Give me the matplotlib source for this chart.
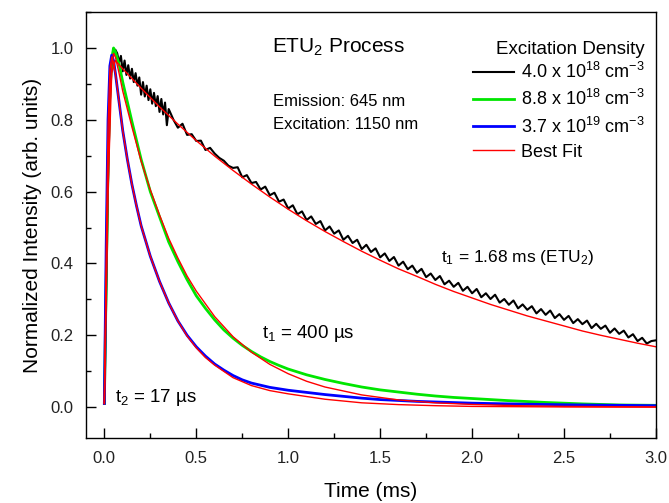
import numpy as np
import matplotlib
matplotlib.use('Agg')
from matplotlib import pyplot as plt
from matplotlib.ticker import MultipleLocator

plt.rcParams['font.family'] = ['Liberation Sans', 'DejaVu Sans']
plt.rcParams['mathtext.fontset'] = 'custom'
plt.rcParams['mathtext.rm'] = 'Liberation Sans'
plt.rcParams['mathtext.it'] = 'Liberation Sans'

#### data (time in ms, normalized intensity)

black_t = [0.0, 0.01, 0.02, 0.03, 0.04, 0.05, 0.06,
           0.07, 0.08, 0.09, 0.10, 0.11, 0.12, 0.13, 0.14, 0.15, 0.16,
           0.17, 0.18, 0.19, 0.20, 0.21, 0.22, 0.23, 0.24, 0.25, 0.26,
           0.27, 0.28, 0.29, 0.30, 0.31, 0.32, 0.33, 0.34, 0.35,
           0.375, 0.4, 0.425, 0.45, 0.475, 0.5, 0.525, 0.55, 0.575, 0.6,
           0.625, 0.65, 0.675, 0.7, 0.725, 0.75, 0.775, 0.8, 0.825, 0.85,
           0.875, 0.9, 0.925, 0.95, 0.975, 1.0, 1.025, 1.05, 1.075, 1.1,
           1.125, 1.15, 1.175, 1.2, 1.225, 1.25, 1.275, 1.3, 1.325, 1.35,
           1.375, 1.4, 1.425, 1.45, 1.475, 1.5, 1.525, 1.55, 1.575, 1.6,
           1.625, 1.65, 1.675, 1.7, 1.725, 1.75, 1.775, 1.8, 1.825, 1.85,
           1.875, 1.9, 1.925, 1.95, 1.975, 2.0, 2.025, 2.05, 2.075, 2.1,
           2.125, 2.15, 2.175, 2.2, 2.225, 2.25, 2.275, 2.3, 2.325, 2.35,
           2.375, 2.4, 2.425, 2.45, 2.475, 2.5, 2.525, 2.55, 2.575, 2.6,
           2.625, 2.65, 2.675, 2.7, 2.725, 2.75, 2.775, 2.8, 2.825, 2.85,
           2.875, 2.9, 2.925, 2.95, 2.975, 3.0]
black_y = [0.01, 0.30, 0.62, 0.85, 0.95, 0.985, 0.995,
           0.985, 0.960, 0.978, 0.935, 0.965, 0.925, 0.952, 0.915, 0.942, 0.905,
           0.930, 0.895, 0.918, 0.870, 0.905, 0.865, 0.895, 0.855, 0.885, 0.845,
           0.875, 0.838, 0.866, 0.822, 0.858, 0.815, 0.848, 0.785, 0.830,
           0.801, 0.778, 0.789, 0.758, 0.760, 0.741, 0.742, 0.716, 0.722, 0.706,
           0.694, 0.686, 0.672, 0.666, 0.668, 0.640, 0.646, 0.624, 0.627, 0.606,
           0.614, 0.590, 0.597, 0.572, 0.578, 0.553, 0.562, 0.537, 0.545, 0.521,
           0.531, 0.510, 0.518, 0.492, 0.503, 0.483, 0.492, 0.466, 0.477, 0.457,
           0.466, 0.440, 0.452, 0.432, 0.442, 0.417, 0.428, 0.407, 0.418, 0.394,
           0.405, 0.384, 0.394, 0.374, 0.385, 0.362, 0.372, 0.354, 0.365, 0.342,
           0.352, 0.335, 0.346, 0.324, 0.335, 0.317, 0.329, 0.306, 0.317, 0.301,
           0.313, 0.291, 0.301, 0.285, 0.297, 0.275, 0.286, 0.271, 0.281, 0.261,
           0.273, 0.257, 0.269, 0.248, 0.259, 0.243, 0.254, 0.234, 0.245, 0.231,
           0.241, 0.220, 0.232, 0.218, 0.227, 0.207, 0.219, 0.204, 0.213, 0.194,
           0.203, 0.184, 0.193, 0.177, 0.184, 0.186]

black_fit_t = [0.0, 0.02, 0.04, 0.06, 0.1, 0.2, 0.3, 0.4, 0.5, 0.6, 0.7, 0.8,
               0.9, 1.0, 1.1, 1.2, 1.3, 1.4, 1.5, 1.6, 1.7, 1.8, 1.9, 2.0,
               2.1, 2.2, 2.3, 2.4, 2.5, 2.6, 2.7, 2.8, 2.9, 3.0]
black_fit_y = [0.01, 0.60, 0.93, 0.965, 0.942, 0.888, 0.836, 0.788, 0.742,
               0.699, 0.659, 0.621, 0.585, 0.551, 0.519, 0.489, 0.461, 0.434,
               0.409, 0.385, 0.364, 0.342, 0.322, 0.304, 0.286, 0.270, 0.254,
               0.240, 0.226, 0.212, 0.200, 0.189, 0.178, 0.168]

green_t = [0.0, 0.01, 0.02, 0.03, 0.04, 0.05, 0.06, 0.08, 0.1, 0.15, 0.2,
           0.25, 0.3, 0.35, 0.4, 0.45, 0.5, 0.55, 0.6, 0.65, 0.7, 0.75, 0.8,
           0.85, 0.9, 0.95, 1.0, 1.1, 1.2, 1.3, 1.4, 1.5, 1.6, 1.7, 1.8, 1.9,
           2.0, 2.2, 2.4, 2.6, 2.8, 3.0]
green_y = [0.01, 0.35, 0.68, 0.88, 0.97, 1.0, 0.99, 0.955, 0.905, 0.795, 0.69,
           0.60, 0.53, 0.46, 0.405, 0.355, 0.31, 0.275, 0.243, 0.215, 0.192,
           0.172, 0.155, 0.140, 0.127, 0.116, 0.106, 0.090, 0.077, 0.066,
           0.056, 0.048, 0.042, 0.036, 0.031, 0.027, 0.024, 0.018, 0.013,
           0.009, 0.006, 0.005]

green_fit_t = [0.0, 0.01, 0.02, 0.03, 0.04, 0.05, 0.06, 0.08, 0.1, 0.15, 0.2,
               0.25, 0.3, 0.35, 0.4, 0.45, 0.5, 0.6, 0.7, 0.8, 0.9, 1.0, 1.1,
               1.2, 1.4, 1.6, 1.8, 2.0, 2.25, 2.5, 3.0]
green_fit_y = [0.01, 0.33, 0.65, 0.86, 0.95, 0.985, 0.975, 0.93, 0.88, 0.78,
               0.685, 0.605, 0.535, 0.47, 0.415, 0.365, 0.323, 0.252, 0.196,
               0.153, 0.119, 0.093, 0.072, 0.056, 0.034, 0.020, 0.012, 0.0075,
               0.004, 0.002, 0.0005]

blue_t = [0.0, 0.01, 0.02, 0.03, 0.04, 0.05, 0.06, 0.08, 0.1, 0.125, 0.15,
          0.175, 0.2, 0.25, 0.3, 0.35, 0.4, 0.45, 0.5, 0.55, 0.6, 0.65, 0.7,
          0.75, 0.8, 0.9, 1.0, 1.1, 1.2, 1.3, 1.4, 1.5, 1.7, 2.0, 2.3, 2.6,
          3.0]
blue_y = [0.01, 0.45, 0.80, 0.95, 0.98, 0.965, 0.93, 0.85, 0.77, 0.69, 0.62,
          0.56, 0.505, 0.42, 0.35, 0.29, 0.24, 0.20, 0.168, 0.142, 0.120,
          0.103, 0.088, 0.076, 0.067, 0.055, 0.047, 0.041, 0.035, 0.030,
          0.025, 0.021, 0.016, 0.011, 0.008, 0.006, 0.004]

blue_fit_t = [0.0, 0.01, 0.02, 0.03, 0.04, 0.05, 0.06, 0.08, 0.1, 0.125, 0.15,
              0.175, 0.2, 0.25, 0.3, 0.35, 0.4, 0.45, 0.5, 0.55, 0.6, 0.7,
              0.8, 0.9, 1.0, 1.2, 1.4, 1.6, 1.8, 2.0, 2.5, 3.0]
blue_fit_y = [0.01, 0.43, 0.78, 0.94, 0.975, 0.96, 0.93, 0.85, 0.77, 0.69,
              0.62, 0.56, 0.505, 0.42, 0.35, 0.29, 0.24, 0.198, 0.165, 0.138,
              0.117, 0.082, 0.060, 0.046, 0.037, 0.022, 0.012, 0.007, 0.004,
              0.002, 0.0005, 0.0]

labels = ['4.0 x 10$^{18}$ cm$^{-3}$', '8.8 x 10$^{18}$ cm$^{-3}$',
          '3.7 x 10$^{19}$ cm$^{-3}$', 'Best Fit']

####

fig = plt.figure(figsize=(6.69, 5.03), dpi=100)
ax = fig.add_axes([0.1285, 0.1292, 0.852, 0.8468])

ax.plot(black_t, black_y, color='black', lw=1.5, label=labels[0])
ax.plot(green_t, green_y, color='#00e600', lw=2.0, label=labels[1])
ax.plot(blue_t, blue_y, color='#0000ff', lw=2.0, label=labels[2])
ax.plot(black_fit_t, black_fit_y, color='#ff0000', lw=1.0, label=labels[3])
ax.plot(green_fit_t, green_fit_y, color='#ff0000', lw=1.0)
ax.plot(blue_fit_t, blue_fit_y, color='#ff0000', lw=1.0)

ax.set_xlim(-0.1, 3.0)
ax.set_ylim(-0.086, 1.10)
ax.xaxis.set_major_locator(MultipleLocator(0.5))
ax.xaxis.set_minor_locator(MultipleLocator(0.25))
ax.yaxis.set_major_locator(MultipleLocator(0.2))
ax.yaxis.set_minor_locator(MultipleLocator(0.1))
ax.xaxis.set_major_formatter(plt.FormatStrFormatter('%.1f'))
ax.yaxis.set_major_formatter(plt.FormatStrFormatter('%.1f'))
ax.tick_params(which='both', direction='in', width=1, labelsize=12, pad=9,
               labelcolor='#222222')
ax.tick_params(which='major', length=7)
ax.tick_params(which='minor', length=3.5)
for s in ax.spines.values():
  s.set_linewidth(1)

ax.set_xlabel('Time (ms)', fontsize=15, labelpad=12)
ax.set_ylabel('Normalized Intensity (arb. units)', fontsize=15, labelpad=6)

leg = ax.legend(title='Excitation Density', frameon=False, loc='upper right',
                bbox_to_anchor=(0.981, 0.933), fontsize=13, title_fontsize=13.5,
                handlelength=2.3, handletextpad=0.4, labelspacing=0.4,
                borderaxespad=0, borderpad=0)
leg._legend_box.align = 'right'
leg._legend_box.sep = 3

ax.text(0.913, 1.003, 'ETU$_2$ Process', fontsize=15, va='center')
ax.text(0.918, 0.852, 'Emission: 645 nm', fontsize=12, va='center')
ax.text(0.918, 0.788, 'Excitation: 1150 nm', fontsize=12, va='center')
ax.text(1.83, 0.418, 't$_1$ = 1.68 ms (ETU$_2$)', fontsize=12.5, va='center')
ax.text(0.86, 0.206, 't$_1$ = 400 µs', fontsize=13.5, va='center')
ax.text(0.06, 0.028, 't$_2$ = 17 µs', fontsize=13.5, va='center')

plt.savefig('out.png', dpi=100)
